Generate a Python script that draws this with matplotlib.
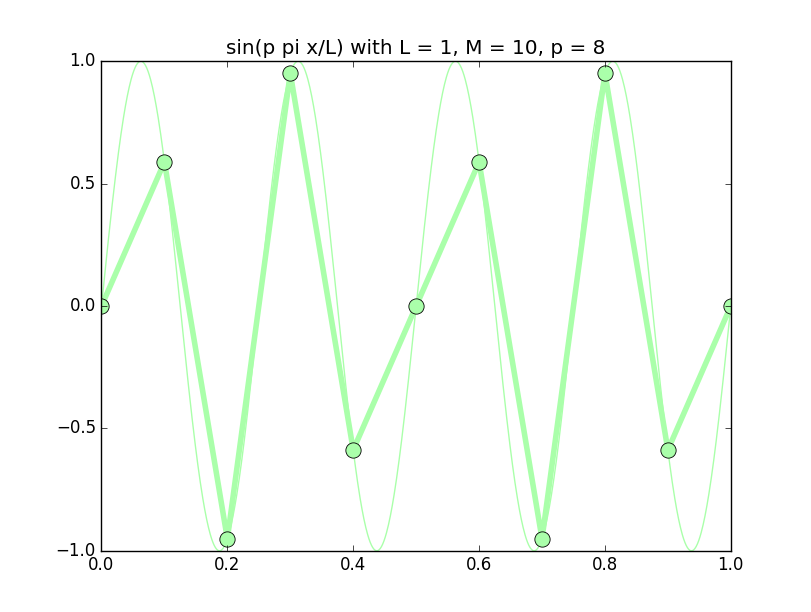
import numpy as np
import matplotlib
matplotlib.use("Agg")
import matplotlib.pyplot as plt

plt.style.use('classic')

L = 1
M = 10
p = 8
x_pts = [0.0, 0.1, 0.2, 0.3, 0.4, 0.5, 0.6, 0.7, 0.8, 0.9, 1.0]
y_pts = [0.0, 0.588, -0.951, 0.951, -0.588, 0.0, 0.588, -0.951, 0.951, -0.588, 0.0]

x_fine = np.linspace(0, L, 1001)
y_fine = np.sin(p * np.pi * x_fine / L)

fig = plt.figure(figsize=(8.12, 6.12), dpi=100)
ax = fig.add_subplot(111)
col = '#aaffaa'
ax.plot(x_fine, y_fine, '-', color=col, lw=1)
ax.plot(x_pts, y_pts, '-', color=col, lw=4)
ax.plot(x_pts, y_pts, 'o', color=col, mec='black', mew=0.6, ms=11)
ax.set_xlim(0, 1)
ax.set_ylim(-1, 1)
ax.set_xticks([0.0, 0.2, 0.4, 0.6, 0.8, 1.0])
ax.set_yticks([-1.0, -0.5, 0.0, 0.5, 1.0])
ax.set_title('sin(p pi x/L) with L = 1, M = 10, p = 8')
fig.savefig('out.png', dpi=100)
